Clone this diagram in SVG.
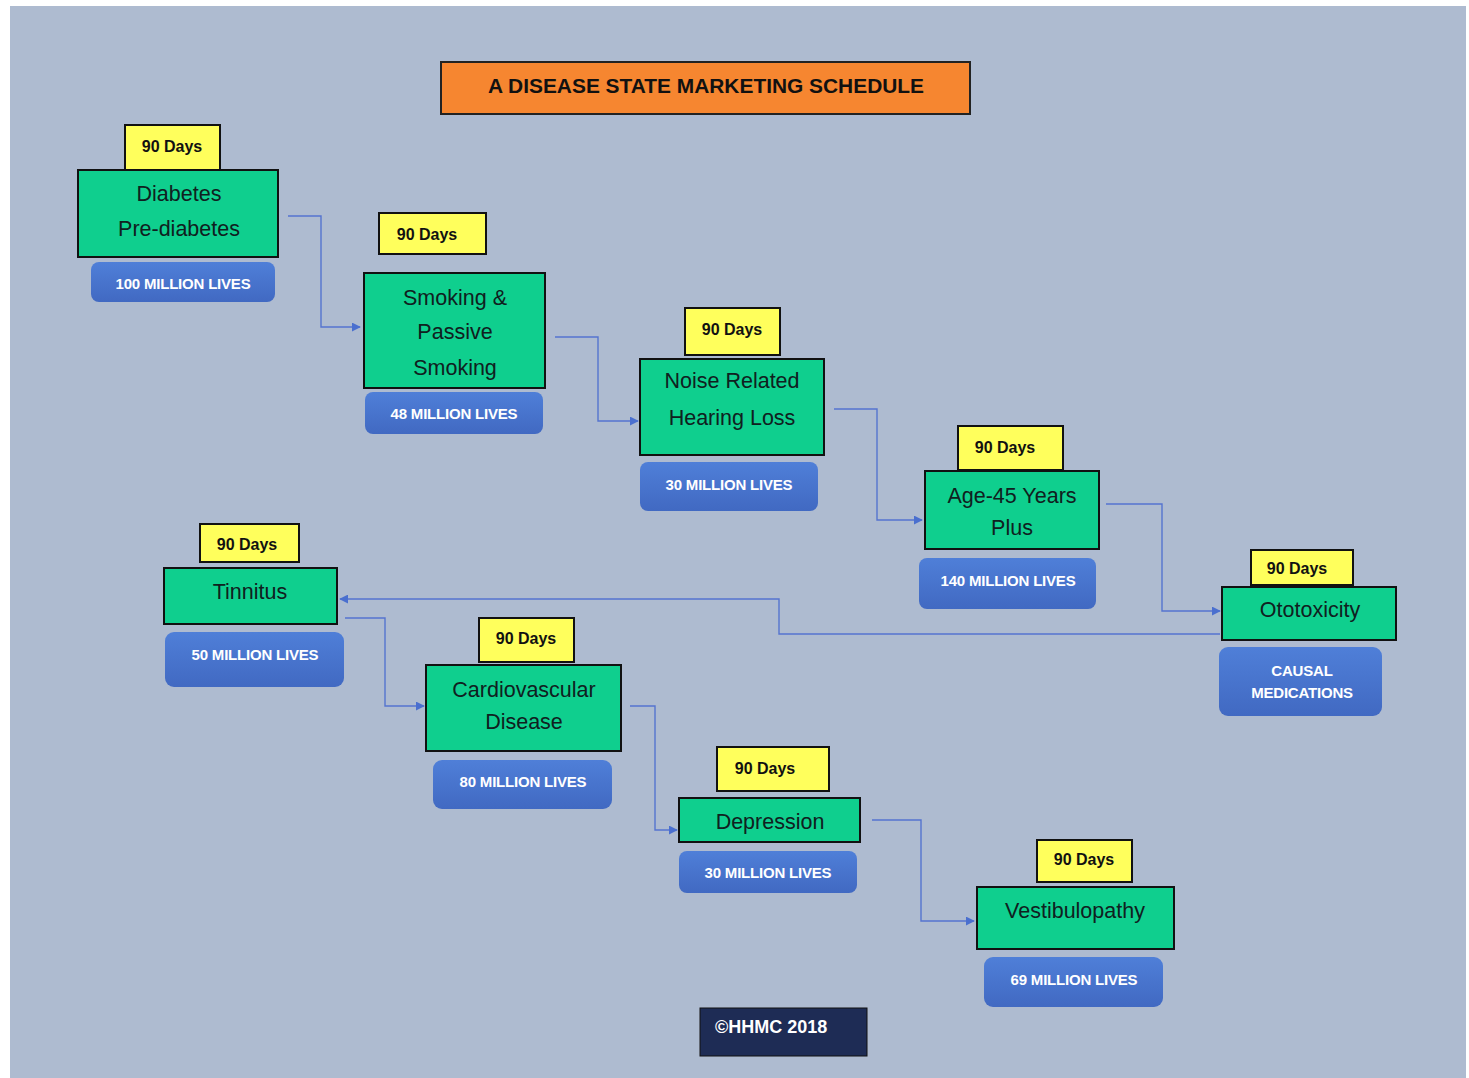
<svg xmlns="http://www.w3.org/2000/svg" width="1469" height="1078" viewBox="0 0 1469 1078">
<defs>
<linearGradient id="pill" x1="0" y1="0" x2="0" y2="1">
<stop offset="0" stop-color="#4f7fd8"/>
<stop offset="1" stop-color="#4169c2"/>
</linearGradient>
<marker id="arr" viewBox="0 0 10 10" refX="9" refY="5" markerWidth="9" markerHeight="9" markerUnits="userSpaceOnUse" orient="auto">
<path d="M0,0 L10,5 L0,10 z" fill="#4a6fcf"/>
</marker>
<style>
.bg{fill:#aebbd0}
.days{fill:#ffff5c;stroke:#111;stroke-width:2}
.dt{font-family:"Liberation Sans",Arial,sans-serif;font-weight:bold;font-size:16px;fill:#111}
.box{fill:#0fcf8e;stroke:#111;stroke-width:2}
.bt{font-family:"Liberation Sans",Arial,sans-serif;font-size:21.5px;fill:#102020;text-anchor:middle}
.pill{fill:url(#pill)}
.pt{font-family:"Liberation Sans",Arial,sans-serif;font-weight:bold;font-size:15px;fill:#fff;text-anchor:middle;letter-spacing:-0.2px}
.con{fill:none;stroke:#5574cf;stroke-width:1.4}
</style>
</defs>
<rect width="1469" height="1078" fill="#ffffff"/>
<rect class="bg" x="10" y="6" width="1456" height="1072"/>

<g id="title">
<rect x="441" y="62" width="529" height="52" fill="#f68630" stroke="#222" stroke-width="2"/>
<text x="706" y="85" font-family="Liberation Sans,Arial,sans-serif" font-weight="bold" font-size="21px" fill="#111" text-anchor="middle" dominant-baseline="central" textLength="436" lengthAdjust="spacingAndGlyphs">A DISEASE STATE MARKETING SCHEDULE</text>
</g>

<g id="connectors">
<path class="con" d="M288,216 H321 V327 H360" marker-end="url(#arr)"/>
<path class="con" d="M555,337 H598 V421 H638" marker-end="url(#arr)"/>
<path class="con" d="M834,409 H877 V520 H922" marker-end="url(#arr)"/>
<path class="con" d="M1106,504 H1162 V611 H1220" marker-end="url(#arr)"/>
<path class="con" d="M1220,634 H779 V599 H340" marker-end="url(#arr)"/>
<path class="con" d="M345,618 H385 V706 H424" marker-end="url(#arr)"/>
<path class="con" d="M630,706 H655 V830 H677" marker-end="url(#arr)"/>
<path class="con" d="M872,820 H921 V921 H974" marker-end="url(#arr)"/>
</g>

<g id="diabetes">
<rect class="days" x="125" y="125" width="95" height="46"/>
<text class="dt" x="172" y="146" text-anchor="middle" dominant-baseline="central">90 Days</text>
<rect class="box" x="78" y="170" width="200" height="87"/>
<text class="bt" x="179" y="194" dominant-baseline="central">Diabetes</text>
<text class="bt" x="179" y="229" dominant-baseline="central">Pre-diabetes</text>
<rect class="pill" x="91" y="262" width="184" height="40" rx="8"/>
<text class="pt" x="183" y="283" dominant-baseline="central">100 MILLION LIVES</text>
</g>

<g id="smoking">
<rect class="days" x="379" y="213" width="107" height="41"/>
<text class="dt" x="427" y="234" text-anchor="middle" dominant-baseline="central">90 Days</text>
<rect class="box" x="364" y="273" width="181" height="115"/>
<text class="bt" x="455" y="298" dominant-baseline="central">Smoking &amp;</text>
<text class="bt" x="455" y="332" dominant-baseline="central">Passive</text>
<text class="bt" x="455" y="368" dominant-baseline="central">Smoking</text>
<rect class="pill" x="365" y="392" width="178" height="42" rx="8"/>
<text class="pt" x="454" y="413" dominant-baseline="central">48 MILLION LIVES</text>
</g>

<g id="noise">
<rect class="days" x="685" y="308" width="95" height="47"/>
<text class="dt" x="732" y="329" text-anchor="middle" dominant-baseline="central">90 Days</text>
<rect class="box" x="640" y="359" width="184" height="96"/>
<text class="bt" x="732" y="381" dominant-baseline="central">Noise Related</text>
<text class="bt" x="732" y="418" dominant-baseline="central">Hearing Loss</text>
<rect class="pill" x="640" y="462" width="178" height="49" rx="8"/>
<text class="pt" x="729" y="484" dominant-baseline="central">30 MILLION LIVES</text>
</g>

<g id="age">
<rect class="days" x="958" y="426" width="105" height="44"/>
<text class="dt" x="1005" y="447" text-anchor="middle" dominant-baseline="central">90 Days</text>
<rect class="box" x="925" y="471" width="174" height="78"/>
<text class="bt" x="1012" y="496" dominant-baseline="central">Age-45 Years</text>
<text class="bt" x="1012" y="528" dominant-baseline="central">Plus</text>
<rect class="pill" x="919" y="558" width="177" height="51" rx="8"/>
<text class="pt" x="1008" y="580" dominant-baseline="central">140 MILLION LIVES</text>
</g>

<g id="ototoxicity">
<rect class="days" x="1251" y="550" width="102" height="35"/>
<text class="dt" x="1297" y="568" text-anchor="middle" dominant-baseline="central">90 Days</text>
<rect class="box" x="1222" y="587" width="174" height="53"/>
<text class="bt" x="1310" y="610" dominant-baseline="central">Ototoxicity</text>
<rect class="pill" x="1219" y="647" width="163" height="69" rx="9"/>
<text class="pt" x="1302" y="670" dominant-baseline="central">CAUSAL</text>
<text class="pt" x="1302" y="692" dominant-baseline="central">MEDICATIONS</text>
</g>

<g id="tinnitus">
<rect class="days" x="200" y="524" width="99" height="38"/>
<text class="dt" x="247" y="544" text-anchor="middle" dominant-baseline="central">90 Days</text>
<rect class="box" x="164" y="568" width="173" height="56"/>
<text class="bt" x="250" y="592" dominant-baseline="central">Tinnitus</text>
<rect class="pill" x="165" y="632" width="179" height="55" rx="9"/>
<text class="pt" x="255" y="654" dominant-baseline="central">50 MILLION LIVES</text>
</g>

<g id="cardiovascular">
<rect class="days" x="479" y="618" width="95" height="44"/>
<text class="dt" x="526" y="638" text-anchor="middle" dominant-baseline="central">90 Days</text>
<rect class="box" x="426" y="665" width="195" height="86"/>
<text class="bt" x="524" y="690" dominant-baseline="central">Cardiovascular</text>
<text class="bt" x="524" y="722" dominant-baseline="central">Disease</text>
<rect class="pill" x="433" y="760" width="179" height="49" rx="9"/>
<text class="pt" x="523" y="781" dominant-baseline="central">80 MILLION LIVES</text>
</g>

<g id="depression">
<rect class="days" x="717" y="747" width="112" height="44"/>
<text class="dt" x="765" y="768" text-anchor="middle" dominant-baseline="central">90 Days</text>
<rect class="box" x="679" y="798" width="181" height="44"/>
<text class="bt" x="770" y="822" dominant-baseline="central">Depression</text>
<rect class="pill" x="679" y="851" width="178" height="42" rx="8"/>
<text class="pt" x="768" y="872" dominant-baseline="central">30 MILLION LIVES</text>
</g>

<g id="vestibulopathy">
<rect class="days" x="1037" y="840" width="95" height="42"/>
<text class="dt" x="1084" y="859" text-anchor="middle" dominant-baseline="central">90 Days</text>
<rect class="box" x="977" y="887" width="197" height="62"/>
<text class="bt" x="1075" y="911" dominant-baseline="central">Vestibulopathy</text>
<rect class="pill" x="984" y="957" width="179" height="50" rx="9"/>
<text class="pt" x="1074" y="979" dominant-baseline="central">69 MILLION LIVES</text>
</g>

<g id="copyright">
<rect x="700" y="1008" width="167" height="48" fill="#1e2c55" stroke="#111" stroke-width="1"/>
<text x="715" y="1027" font-family="Liberation Sans,Arial,sans-serif" font-weight="bold" font-size="18px" fill="#fff" dominant-baseline="central">©HHMC 2018</text>
</g>
</svg>
